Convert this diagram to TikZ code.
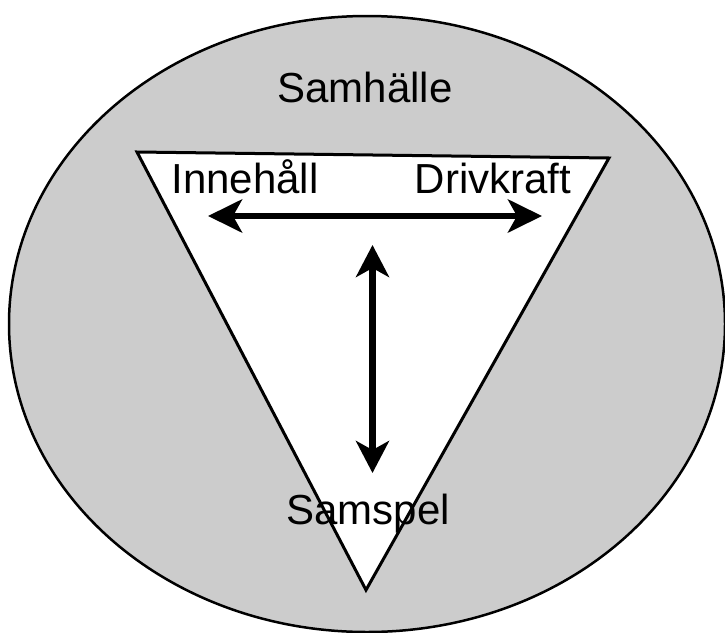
\documentclass[tikz,border=0pt]{standalone}
\usepackage{fontspec}
\setmainfont{Liberation Sans}
\usepackage{xcolor}
\usetikzlibrary{arrows.meta}
\definecolor{lightgray}{HTML}{CCCCCC}

\begin{document}
\begin{tikzpicture}[x=1pt, y=-1pt, font=\fontsize{42}{48}\selectfont]
        \useasboundingbox (0, 0) rectangle (725, 632);
        % Society
        \draw [line width=2.5, fill=lightgray] (367, 324) ellipse [x radius=358, y radius=308];
        \draw [line width=3, fill=white] (137, 152) -- (609, 158) -- (366, 590) -- cycle;
        % Labels
        \node [anchor=base, inner sep=0] (samhalle) at (365, 102) {Samhälle};
        \node [anchor=base, inner sep=0] (innehall) at (245, 193) {Innehåll};
        \node [anchor=base, inner sep=0] (drivkraft) at (493, 193) {Drivkraft};
        \node [anchor=base, inner sep=0] (samspel) at (368, 524) {Samspel};
        % Arrows
        \coordinate (left) at (208, 216);
        \coordinate (right) at (542, 216);
        \coordinate (top) at (372.5, 245);
        \coordinate (bottom) at (372.5, 473);
        \draw [line width=6.5, {Stealth[length=34, width=33, inset=9]}-{Stealth[length=34, width=33, inset=9]}] (left) -- (right);
        \draw [line width=6.5, {Stealth[length=32, width=33, inset=9]}-{Stealth[length=32, width=33, inset=9]}] (top) -- (bottom);
    \end{tikzpicture}
\end{document}
